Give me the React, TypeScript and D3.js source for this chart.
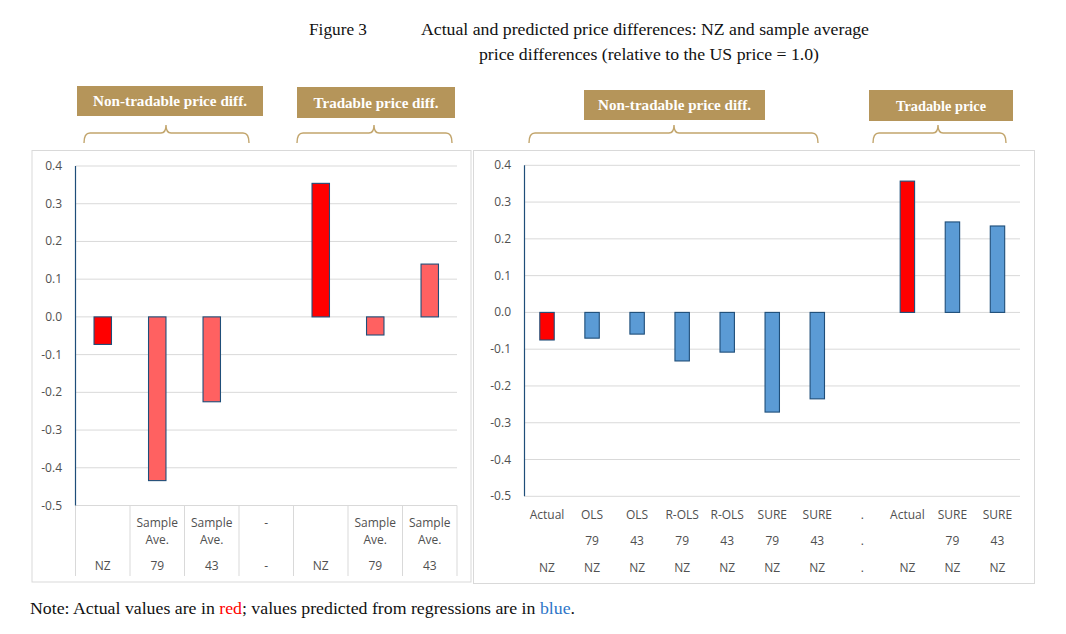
import React from 'react';
import * as d3 from 'd3';

// y axis ticks shared by both panels
const yTicks = [0.4, 0.3, 0.2, 0.1, 0.0, -0.1, -0.2, -0.3, -0.4, -0.5];

// left panel: NZ vs sample averages
const leftRow1 = ['', 'Sample', 'Sample', '-', '', 'Sample', 'Sample'];
const leftRow2 = ['', 'Ave.', 'Ave.', '', '', 'Ave.', 'Ave.'];
const leftRow3 = ['NZ', '79', '43', '-', 'NZ', '79', '43'];
const leftValues = [-0.073, -0.434, -0.225, null, 0.354, -0.048, 0.14];
const leftActual = [true, false, false, false, true, false, false];

// right panel: actual vs predicted NZ
const rightRow1 = ['Actual', 'OLS', 'OLS', 'R-OLS', 'R-OLS', 'SURE', 'SURE', '.', 'Actual', 'SURE', 'SURE'];
const rightRow2 = ['', '79', '43', '79', '43', '79', '43', '.', '', '79', '43'];
const rightRow3 = ['NZ', 'NZ', 'NZ', 'NZ', 'NZ', 'NZ', 'NZ', '.', 'NZ', 'NZ', 'NZ'];
const rightValues = [-0.075, -0.07, -0.059, -0.132, -0.108, -0.271, -0.235, null, 0.357, 0.246, 0.235];
const rightActual = [true, false, false, false, false, false, false, false, true, false, false];

const RED = '#ff0000';
const SALMON = '#ff6161';
const BLUE = '#5b9bd5';
const EDGE = '#1f4e79';
const GRID = '#d9d9d9';
const GOLD = '#b5955a';
const LABEL = '#505050';
const SANS = '"Open Sans", sans-serif';
const SERIF = '"Liberation Serif", serif';

// excel style: plain hyphen for negatives
const fmt = (v: number) => d3.format('.1f')(v).replace('\u2212', '-');

const Brace = ({ x1, x2, tip }: { x1: number; x2: number; tip: number }) => {
  const yh = 133;
  const d = `M${x1},143 Q${x1},${yh} ${x1 + 6},${yh} L${tip - 5},${yh} Q${tip},${yh} ${tip},125 Q${tip},${yh} ${tip + 5},${yh} L${x2 - 6},${yh} Q${x2},${yh} ${x2},143`;
  return <path d={d} fill="none" stroke="#c2a56c" strokeWidth={1.4} />;
};

const Header = (props: { x: number; w: number; y: number; h: number; label: string; tw: number }) => {
  const { x, w, y, h, label, tw } = props;
  return (
    <g>
      <rect x={x} y={y} width={w} height={h} fill={GOLD} />
      <text
        x={x + w / 2}
        y={y + h / 2 + 5}
        textAnchor="middle"
        fill="#fff"
        fontFamily={SERIF}
        fontWeight="bold"
        fontSize={15}
        textLength={tw}
        lengthAdjust="spacingAndGlyphs"
      >
        {label}
      </text>
    </g>
  );
};

interface PanelProps {
  x0: number;
  x1: number;
  yTop: number;
  yBottom: number;
  labelRight: number;
  values: (number | null)[];
  actual: boolean[];
  predictedColor: string;
  rows: string[][];
  rowY: number[];
  separators: boolean;
}

const Panel = (props: PanelProps) => {
  const { x0, x1, yTop, yBottom, labelRight, values, actual, predictedColor, rows, rowY, separators } = props;
  const y = d3.scaleLinear().domain([-0.5, 0.4]).range([yBottom, yTop]);
  const x = d3
    .scaleBand<number>()
    .domain(values.map((_, i) => i))
    .range([x0, x1])
    .padding(0);
  const bw = x.bandwidth() * 0.32;
  return (
    <g>
      {yTicks.map((t) => (
        <g key={t}>
          <line x1={x0} x2={x1} y1={y(t)} y2={y(t)} stroke={GRID} strokeWidth={1} />
          <text x={labelRight} y={y(t) + 4} textAnchor="end" fontFamily={SANS} fontSize={12} fill={LABEL}>
            {fmt(t)}
          </text>
        </g>
      ))}
      {separators &&
        d3.range(values.length + 1).map((i) => {
          const sx = i < values.length ? x(i)! : x1;
          return <line key={i} x1={sx} x2={sx} y1={y(-0.5)} y2={576} stroke={GRID} strokeWidth={1} />;
        })}
      <line x1={x0} x2={x0} y1={y(0.4)} y2={y(-0.5)} stroke={EDGE} strokeWidth={1.2} />
      {values.map((v, i) =>
        v === null ? null : (
          <rect
            key={i}
            x={x(i)! + (x.bandwidth() - bw) / 2}
            y={Math.min(y(v), y(0))}
            width={bw}
            height={Math.abs(y(v) - y(0))}
            fill={actual[i] ? RED : predictedColor}
            stroke={EDGE}
            strokeWidth={1.1}
          />
        )
      )}
      {rows.map((row, r) =>
        row.map((lab, i) => (
          <text
            key={`${r}-${i}`}
            x={x(i)! + x.bandwidth() / 2}
            y={rowY[r] + 4}
            textAnchor="middle"
            fontFamily={SANS}
            fontSize={12}
            fill={LABEL}
          >
            {lab}
          </text>
        ))
      )}
    </g>
  );
};

export default function App() {
  return (
    <svg width={1066} height={634} style={{ position: 'absolute', left: 0, top: 0, background: '#fff' }}>
      <text x={309} y={35} fontFamily={SERIF} fontSize={16} fill="#111" textLength={58} lengthAdjust="spacingAndGlyphs">
        Figure 3
      </text>
      <text x={421} y={35} fontFamily={SERIF} fontSize={16} fill="#111" textLength={448} lengthAdjust="spacingAndGlyphs">
        Actual and predicted price differences: NZ and sample average
      </text>
      <text x={479} y={60} fontFamily={SERIF} fontSize={16} fill="#111" textLength={340} lengthAdjust="spacingAndGlyphs">
        price differences (relative to the US price = 1.0)
      </text>

      <Header x={77} w={186} y={86} h={30} label="Non-tradable price diff." tw={154} />
      <Header x={297} w={158} y={87} h={31} label="Tradable price diff." tw={125} />
      <Header x={584} w={181} y={90} h={30} label="Non-tradable price diff." tw={153} />
      <Header x={869} w={144} y={90} h={31} label="Tradable price" tw={90} />

      <Brace x1={84} x2={249} tip={166} />
      <Brace x1={297} x2={452} tip={374} />
      <Brace x1={529} x2={818} tip={674} />
      <Brace x1={873} x2={1006} tip={938} />

      <rect x={32} y={150.5} width={439} height={431.5} fill="none" stroke={GRID} strokeWidth={1} />
      <rect x={473.5} y={150.5} width={561} height={433} fill="none" stroke={GRID} strokeWidth={1} />

      <Panel
        x0={75.5}
        x1={457}
        yTop={166}
        yBottom={505.5}
        labelRight={62}
        values={leftValues}
        actual={leftActual}
        predictedColor={SALMON}
        rows={[leftRow1, leftRow2, leftRow3]}
        rowY={[523, 540, 566]}
        separators={true}
      />
      <Panel
        x0={524.5}
        x1={1020}
        yTop={165.3}
        yBottom={496.3}
        labelRight={511}
        values={rightValues}
        actual={rightActual}
        predictedColor={BLUE}
        rows={[rightRow1, rightRow2, rightRow3]}
        rowY={[515, 541, 568]}
        separators={false}
      />

      <text x={30} y={614} fontFamily={SERIF} fontSize={16} fill="#111" textLength={545} lengthAdjust="spacingAndGlyphs">
        Note: Actual values are in <tspan fill="#ff0000">red</tspan>; values predicted from regressions are in{' '}
        <tspan fill="#2e75c8">blue</tspan>.
      </text>
    </svg>
  );
}
